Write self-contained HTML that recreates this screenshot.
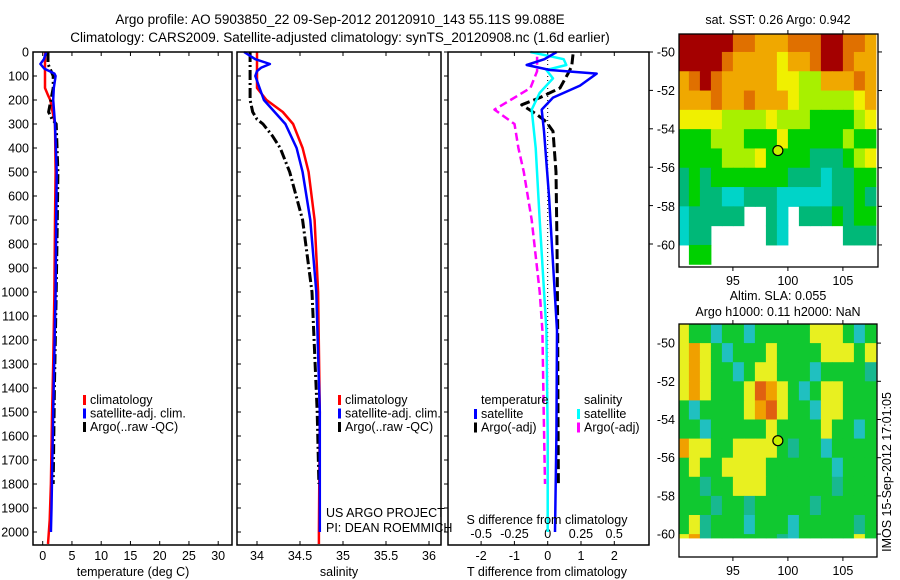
<!DOCTYPE html>
<html><head><meta charset="utf-8"><style>
body{margin:0;background:#fff;}
svg{display:block;font-family:"Liberation Sans",sans-serif;}
text{font-size:12.5px;fill:#000;}
</style></head><body>
<svg id="fig" width="900" height="580" viewBox="0 0 900 580" xmlns="http://www.w3.org/2000/svg">
<text x="340" y="24" text-anchor="middle" style="font-size:13.5px">Argo profile: AO 5903850_22 09-Sep-2012 20120910_143 55.11S 99.088E</text>
<text x="340" y="42" text-anchor="middle" style="font-size:13.5px">Climatology: CARS2009. Satellite-adjusted climatology: synTS_20120908.nc (1.6d earlier)</text>
<g id="g1"></g>
<g id="g2"></g>
<g id="g3"></g>
<g id="m1"></g>
<g id="m2"></g>
<text x="778" y="24" text-anchor="middle">sat. SST: 0.26 Argo: 0.942</text>
<text x="778" y="300" text-anchor="middle">Altim. SLA: 0.055</text>
<text x="778" y="316" text-anchor="middle">Argo h1000: 0.11 h2000: NaN</text>
<text transform="translate(891,472) rotate(-90)" text-anchor="middle">IMOS 15-Sep-2012 17:01:05</text>
<text x="133" y="576" text-anchor="middle">temperature (deg C)</text>
<text x="339" y="576" text-anchor="middle">salinity</text>
<text x="547" y="576" text-anchor="middle">T difference from climatology</text>
<text x="547" y="524" text-anchor="middle">S difference from climatology</text>
<text x="326" y="517">US ARGO PROJECT</text>
<text x="326" y="532">PI: DEAN ROEMMICH</text>
</svg>
<script>
const NS="http://www.w3.org/2000/svg";
function mk(tag,attrs,parent){const e=document.createElementNS(NS,tag);for(const k in attrs)e.setAttribute(k,attrs[k]);parent.appendChild(e);return e;}
const TOP=52,BOT=545;
const yD=d=>TOP+d*0.24;
// ---- data ----
const depthTicks=[0,100,200,300,400,500,600,700,800,900,1000,1100,1200,1300,1400,1500,1600,1700,1800,1900,2000];
const tempTicks=[0,5,10,15,20,25,30];
const salTicks=[34,34.5,35,35.5,36];
const tdTicks=[-2,-1,0,1,2];
const sdTicks=[-0.5,-0.25,0,0.25,0.5];
const sdTickLabels=["-0.5","-0.25","0","0.25","0.5"];
// temperature
const climDepth=[0,150,180,200,250,300,500,700,1000,1300,1500,1800,1950,2050];
const climTemp=[0.4,0.4,0.9,1.3,1.7,2.1,2.2,2.1,2.0,1.8,1.6,1.4,1.2,0.9];
const satDepth=[0,30,50,70,80,90,100,150,200,300,500,700,1000,1500,1900,2000];
const satTemp=[0.6,0.2,-0.4,0.3,1.2,2.0,2.2,1.9,1.8,2.1,2.4,2.3,2.2,1.8,1.5,1.4];
const argoDepth=[0,50,100,150,200,250,280,300,500,700,1000,1400,1800];
const argoTemp=[0.9,0.9,1.8,1.8,1.4,1.0,1.6,2.3,2.6,2.5,2.3,2.0,1.8];
// salinity
const climSalD=[0,150,200,250,300,400,500,700,1000,1500,2000,2050];
const climSal=[34.0,34.0,34.11,34.3,34.42,34.53,34.6,34.67,34.71,34.73,34.72,34.72];
const satSalD=[0,30,50,65,80,100,150,200,300,400,500,700,1000,1500,2000];
const satSal=[33.85,33.98,34.15,34.05,34.0,33.98,34.03,34.08,34.33,34.46,34.53,34.62,34.69,34.73,34.73];
const argoSalD=[0,200,250,280,300,350,400,500,700,1000,1500,1800];
const argoSal=[33.92,33.92,33.95,34.0,34.07,34.18,34.27,34.38,34.53,34.64,34.7,34.72];
// differences
const tSatD=[0,30,54,75,90,140,190,240,330,600,880,1160,1600,2000];
const tSatDiff=[0.27,-0.1,-0.63,0.07,1.47,0.97,0.16,-0.18,-0.11,0.04,0.16,0.28,0.26,0.22];
const sSatD=[0,30,54,75,110,170,240,400,700,1160,1600,2000];
const sSatDiff=[-0.13,0.12,0.14,-0.01,0.04,-0.06,-0.12,-0.09,-0.06,-0.01,0.0,0.0];
const tArgoD=[10,60,90,150,190,220,260,290,330,500,800,1160,1500,1800];
const tArgoDiff=[0.76,0.72,0.61,0.37,-0.23,-0.78,-0.33,-0.05,0.16,0.25,0.28,0.3,0.31,0.32];
const sArgoD=[20,80,150,200,240,300,400,500,700,1000,1160,1500,1800];
const sArgoDiff=[-0.08,-0.08,-0.13,-0.28,-0.4,-0.25,-0.22,-0.18,-0.12,-0.06,-0.04,-0.03,-0.02];
// maps
const sstRows=[
"RRRRRrrooorrrRRrro",
"RRRRrooooyoorRRroo",
"orRroooooyylloooro",
"ooorooroooylllllyo",
"yyyyllllylllggggly",
"ggglllgggyggggglgg",
"gggglllyggggtttgly",
"tgtgggggggtttcttgg",
"tgttcctttcccccttgt",
"ctttttwwtcwtttgtgg",
"cttwwwwwtcwwwwwttt",
"wggwwwwwwwwwwwwwww"];
const slaRows=[
"yggcggcgggggyyygcg",
"yoygcgggyggggyyygy",
"yoyggcgyygggcggggt",
"yoygggyroygcgyyggg",
"gcggggyoryggcyyggg",
"ggcgggggyggggyggcg",
"oyyggyyyygtggcgggg",
"gyggyyyyggggggcggg",
"ggtggyyyggggggtggg",
"gggtggtgggggtggggg",
"gytgggcgggcgggggtg",
"yotggggggtcgggggyg"];
const colMap={R:"#a40000",r:"#e07000",o:"#f0a800",y:"#f0f000",l:"#a8f000",g:"#00d000",t:"#00b878",c:"#00d4c8",w:"#ffffff"};
const slaCol={g:"#10c830",y:"#e8f020",o:"#f0a000",r:"#e06010",c:"#20c0c0",t:"#18b890"};

function axisBox(g,x0,x1,name){
  const r=mk("rect",{x:x0,y:TOP,width:x1-x0,height:BOT-TOP,fill:"none",stroke:"#000","stroke-width":1.5},g);
  
  
}
function line(g,xs,ds,fx,color,w,dash,name){
  let p="";for(let i=0;i<xs.length;i++)p+=(i?"L":"M")+fx(xs[i]).toFixed(1)+","+yD(ds[i]).toFixed(1);
  const a={d:p,fill:"none",stroke:color,"stroke-width":w,"stroke-linejoin":"round"};
  if(dash)a["stroke-dasharray"]=dash;
  const e=mk("path",a,g);
  
  
}
function legend(g,x,y,items){
  items.forEach((it,i)=>{
    const r=mk("rect",{x:x,y:y+i*13.5-9,width:3,height:10,fill:it[1]},g);
    
    
    const t=mk("text",{x:x+7,y:y+i*13.5},g);t.textContent=it[0];
    
    
  });
}
// Panel 1
const g1=document.getElementById("g1");
const fT=t=>42.7+t*5.85;
depthTicks.forEach(d=>{
  mk("line",{x1:33,x2:37,y1:yD(d),y2:yD(d),stroke:"#000"},g1);
  mk("line",{x1:237,x2:241,y1:yD(d),y2:yD(d),stroke:"#000"},g1);
  mk("line",{x1:444,x2:448,y1:yD(d),y2:yD(d),stroke:"#000"},g1);
  const t=mk("text",{x:29,y:yD(d)+4.5,"text-anchor":"end"},g1);t.textContent=d;
  
  
});
tempTicks.forEach(v=>{
  mk("line",{x1:fT(v),x2:fT(v),y1:TOP,y2:TOP+4,stroke:"#000"},g1);
  mk("line",{x1:fT(v),x2:fT(v),y1:BOT,y2:BOT-4,stroke:"#000"},g1);
  const t=mk("text",{x:fT(v),y:560,"text-anchor":"middle"},g1);t.textContent=v;
  
  
});
line(g1,climTemp,climDepth,fT,"#f00",2.5,null,"climatology-temp-line");
line(g1,argoTemp,argoDepth,fT,"#000",3,"10,3,2,3","argo-temp-line");
line(g1,satTemp,satDepth,fT,"#00f",2.5,null,"satellite-temp-line");
axisBox(g1,33,232,"temperature-axes");
legend(g1,83,404,[["climatology","#f00"],["satellite-adj. clim.","#00f"],["Argo(..raw -QC)","#000"]]);
// Panel 2
const g2=document.getElementById("g2");
const fS=s=>257+(s-34)*86;
salTicks.forEach(v=>{
  mk("line",{x1:fS(v),x2:fS(v),y1:TOP,y2:TOP+4,stroke:"#000"},g2);
  mk("line",{x1:fS(v),x2:fS(v),y1:BOT,y2:BOT-4,stroke:"#000"},g2);
  const t=mk("text",{x:fS(v),y:560,"text-anchor":"middle"},g2);t.textContent=v;
  
  
});
line(g2,climSal,climSalD,fS,"#f00",2.5,null,"climatology-sal-line");
line(g2,argoSal,argoSalD,fS,"#000",3,"10,3,2,3","argo-sal-line");
line(g2,satSal,satSalD,fS,"#00f",2.5,null,"satellite-sal-line");
axisBox(g2,237,441,"salinity-axes");
legend(g2,338,404,[["climatology","#f00"],["satellite-adj. clim.","#00f"],["Argo(..raw -QC)","#000"]]);
// Panel 3
const g3=document.getElementById("g3");
const fTD=t=>547.7+t*33.3;
const fSD=s=>547.7+s*133;
tdTicks.forEach(v=>{
  mk("line",{x1:fTD(v),x2:fTD(v),y1:TOP,y2:TOP+4,stroke:"#000"},g3);
  mk("line",{x1:fTD(v),x2:fTD(v),y1:BOT,y2:BOT-4,stroke:"#000"},g3);
  const t=mk("text",{x:fTD(v),y:560,"text-anchor":"middle"},g3);t.textContent=v;
  
  
});
sdTicks.forEach((v,i)=>{
  const t=mk("text",{x:fSD(v),y:538,"text-anchor":"middle"},g3);t.textContent=sdTickLabels[i];
  
  
});
mk("line",{x1:fTD(0),x2:fTD(0),y1:TOP,y2:530,stroke:"#000","stroke-dasharray":"1,3"},g3);
line(g3,sArgoDiff,sArgoD,fSD,"#f0f",2.5,"8,4","argo-sal-diff-line");
line(g3,tArgoDiff,tArgoD,fTD,"#000",3,"10,4","argo-temp-diff-line");
line(g3,sSatDiff,sSatD,fSD,"#0ff",2.5,null,"satellite-sal-diff-line");
line(g3,tSatDiff,tSatD,fTD,"#00f",2.5,null,"satellite-temp-diff-line");
axisBox(g3,448,649,"difference-axes");
[0,160,320,480,640,800].forEach(d=>mk("line",{x1:649,x2:653,y1:yD(d),y2:yD(d),stroke:"#000"},g3));
const tl=mk("text",{x:481,y:404},g3);tl.textContent="temperature";


const sl=mk("text",{x:584,y:404},g3);sl.textContent="salinity";


legend(g3,474,418,[["satellite","#00f"],["Argo(-adj)","#000"]]);
legend(g3,577,418,[["satellite","#0ff"],["Argo(-adj)","#f0f"]]);
// Maps
function drawMap(id,rows,cols,x0,x1,y0,y1,latTop,pxDeg,lonL,pxLon,name,latMin){
  const g=document.getElementById(id);
  const fx=lon=>x0+(lon-lonL)*pxLon;
  const fy=lat=>y0+(latTop-lat)*pxDeg;
  const yLim=Math.min(y1,fy(latMin));
  rows.forEach((row,r)=>{
    for(let c=0;c<row.length;c++){
      const ch=row[c]; if(ch==="w")continue;
      const xa=Math.max(x0,fx(90+c)),xb=Math.min(x1,fx(91+c));
      const ya=Math.max(y0,fy(-49-r)),yb=Math.min(yLim,fy(-50-r));
      if(xb<=xa||yb<=ya)continue;
      const e=mk("rect",{x:xa,y:ya,width:xb-xa+0.5,height:yb-ya+0.5,fill:cols[ch]},g);
      
      
    }
  });
  const c=mk("circle",{cx:fx(99.088),cy:fy(-55.11),r:5,fill:"#c8f000",stroke:"#000","stroke-width":1.2},g);
  
  
  const b=mk("rect",{x:x0,y:y0,width:x1-x0,height:y1-y0,fill:"none",stroke:"#000","stroke-width":1.3},g);
  
  
  [-50,-52,-54,-56,-58,-60].forEach(l=>{
    mk("line",{x1:x1,x2:x1+4,y1:fy(l),y2:fy(l),stroke:"#000"},g);
    const t=mk("text",{x:x0-4,y:fy(l)+4.5,"text-anchor":"end"},g);t.textContent=l;
    
    
  });
  [95,100,105].forEach(l=>{
    mk("line",{x1:fx(l),x2:fx(l),y1:y0-4,y2:y0,stroke:"#000"},g);
    mk("line",{x1:fx(l),x2:fx(l),y1:y1,y2:y1+4,stroke:"#000"},g);
    const t=mk("text",{x:fx(l),y:y1+18,"text-anchor":"middle"},g);t.textContent=l;
    
    
  });
}
drawMap("m1",sstRows,colMap,679,878,34,267,-49.07,19.3,90.1,11,"sst-map-frame",-70);
drawMap("m2",slaRows,slaCol,679,877,324,557,-49.0,19.1,90.1,11,"sla-map-frame",-60.2);
</script>
</body></html>
